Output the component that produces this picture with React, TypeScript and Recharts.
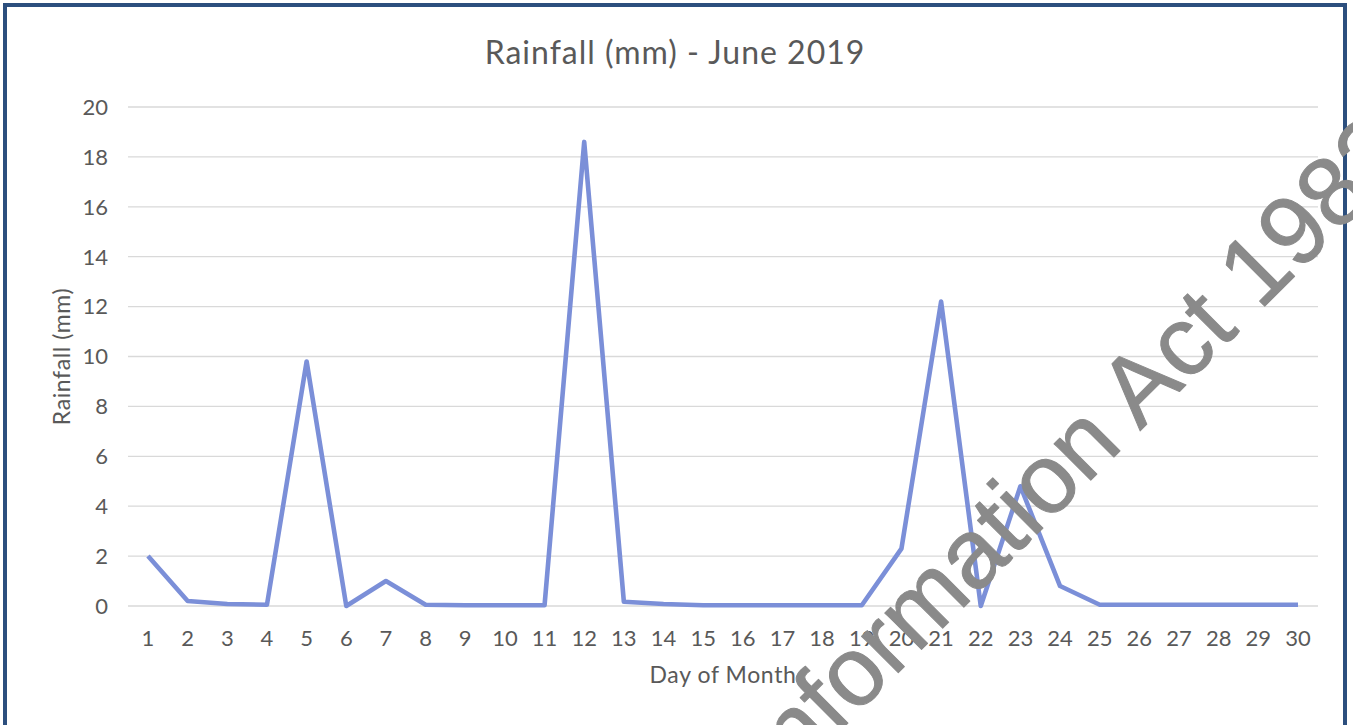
import { CartesianGrid, Line, LineChart, XAxis, YAxis } from 'recharts';

const days = [
  '1', '2', '3', '4', '5', '6', '7', '8', '9', '10',
  '11', '12', '13', '14', '15', '16', '17', '18', '19', '20',
  '21', '22', '23', '24', '25', '26', '27', '28', '29', '30',
];
const rainfall = [
  2.0, 0.2, 0.08, 0.05, 9.8, 0, 1.0, 0.05, 0.03, 0.03,
  0.03, 18.6, 0.17, 0.08, 0.03, 0.03, 0.03, 0.03, 0.03, 2.3,
  12.2, 0, 4.8, 0.8, 0.05, 0.05, 0.05, 0.05, 0.05, 0.05,
];
const yTicks = [0, 2, 4, 6, 8, 10, 12, 14, 16, 18, 20];

const chartTitle = 'Rainfall (mm) - June 2019';
const xTitle = 'Day of Month';
const yTitle = 'Rainfall (mm)';
const watermark = 'Information Act 1982';

const data = days.map((day, i) => ({ day, rainfall: rainfall[i] }));

const FONT = 'Lato, "Open Sans", sans-serif';
const GREY = '#595959';

export default function App() {
  return (
    <div
      style={{
        position: 'fixed',
        left: 0,
        top: 0,
        width: 1353,
        height: 725,
        overflow: 'hidden',
        background: '#fff',
        fontFamily: FONT,
      }}
    >
      <div
        style={{
          position: 'absolute',
          left: 3,
          top: 3,
          width: 1336,
          height: 800,
          border: '4px solid #2c4f7e',
        }}
      />
      <div style={{ position: 'absolute', left: 0, top: 0 }}>
        <LineChart
          width={1353}
          height={725}
          data={data}
          margin={{ top: 107, right: 35, bottom: 0, left: 0 }}
        >
          <CartesianGrid vertical={false} stroke="#d9d9d9" strokeWidth={1.3} />
          <XAxis
            dataKey="day"
            height={119}
            padding={{ left: 20, right: 20 }}
            axisLine={false}
            tickLine={false}
            tickMargin={18}
            interval={0}
            tick={{ fill: GREY, fontSize: 22, fontFamily: FONT }}
            label={{
              value: xTitle,
              position: 'insideBottom',
              offset: 42,
              fill: GREY,
              fontSize: 23,
              fontFamily: FONT,
              style: { letterSpacing: 0.6 },
            }}
          />
          <YAxis
            width={128}
            domain={[0, 20]}
            ticks={yTicks}
            axisLine={false}
            tickLine={false}
            tickMargin={14}
            tick={{ fill: GREY, fontSize: 22, fontFamily: FONT }}
            label={{
              value: yTitle,
              angle: -90,
              position: 'insideLeft',
              offset: 62,
              fill: GREY,
              fontSize: 23,
              fontFamily: FONT,
              style: { textAnchor: 'middle', letterSpacing: 0.6 },
            }}
          />
          <Line
            type="linear"
            dataKey="rainfall"
            stroke="#7b8fd8"
            strokeWidth={4.6}
            strokeLinejoin="round"
            dot={false}
            isAnimationActive={false}
          />
        </LineChart>
      </div>
      <svg
        width={1353}
        height={725}
        style={{ position: 'absolute', left: 0, top: 0, pointerEvents: 'none' }}
      >
        <text
          x={675}
          y={64}
          textAnchor="middle"
          fill={GREY}
          fontSize={32}
          letterSpacing={1}
          fontFamily={FONT}
        >
          {chartTitle}
        </text>
        {/* diagonal stamp lying over the whole chart */}
        <text
          x={778}
          y={793}
          transform="rotate(-45 778 793)"
          fill="#8a8a8a"
          stroke="#8a8a8a"
          strokeWidth={1}
          strokeLinejoin="round"
          fontSize={98}
          fontFamily='"Liberation Sans", Arial, sans-serif'
        >
          {watermark}
        </text>
      </svg>
    </div>
  );
}
